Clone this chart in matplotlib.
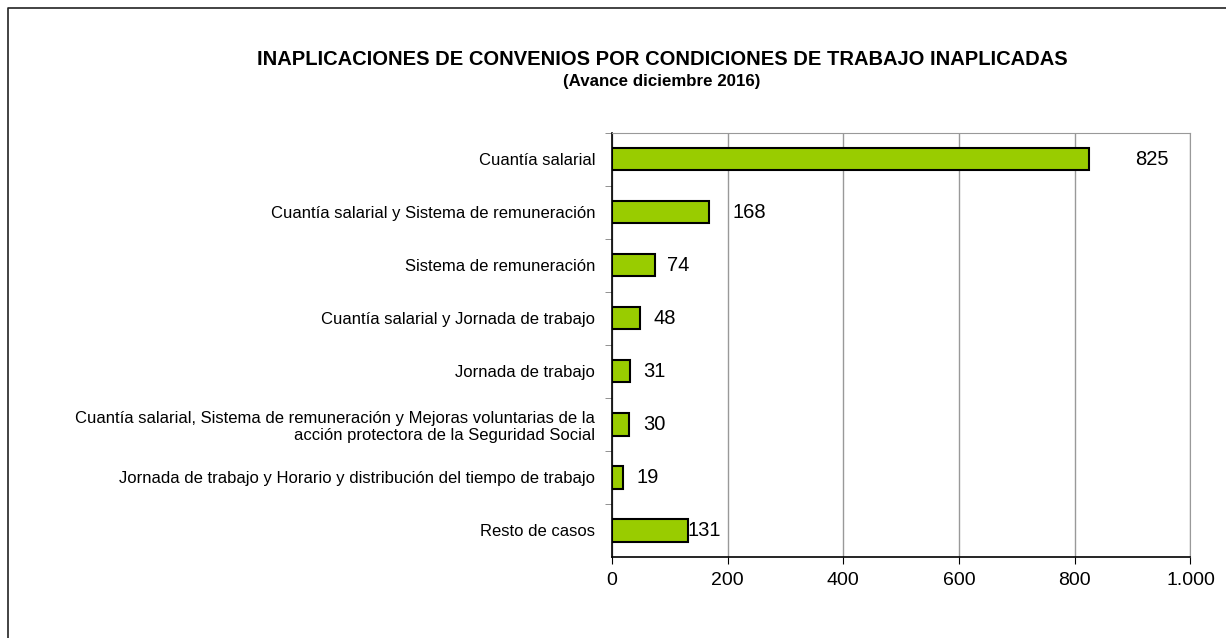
import matplotlib.pyplot as plt
from matplotlib.lines import Line2D
from matplotlib.ticker import FuncFormatter

plt.rcParams['font.family'] = ['Liberation Sans', 'DejaVu Sans']

categorias = [
    "Cuantía salarial",
    "Cuantía salarial y Sistema de remuneración",
    "Sistema de remuneración",
    "Cuantía salarial y Jornada de trabajo",
    "Jornada de trabajo",
    "Cuantía salarial, Sistema de remuneración y Mejoras voluntarias de la\nacción protectora de la Seguridad Social",
    "Jornada de trabajo y Horario y distribución del tiempo de trabajo",
    "Resto de casos",
]
valores = [825, 168, 74, 48, 31, 30, 19, 131]
xticks = [0, 200, 400, 600, 800, 1000]

fig = plt.figure(figsize=(12.26, 6.38), dpi=100)
ax = fig.add_axes([0.499, 0.127, 0.472, 0.665])

pos = list(range(len(categorias)))[::-1]
ax.barh(pos, valores, height=0.42, color='#99CC00', edgecolor='black', linewidth=1.5, zorder=3)

# desplazamiento de las etiquetas (pt), como en el original
desp = [33, 17, 9, 10, 10, 10, 10, 0]
for p, v, d in zip(pos, valores, desp):
    ax.annotate(str(v), (v, p), xytext=(d, 0), textcoords='offset points',
                va='center', ha='left', fontsize=14.5)

ax.set_xlim(0, 1000)
ax.set_ylim(-0.5, len(categorias) - 0.5)
ax.set_xticks(xticks)
ax.xaxis.set_major_formatter(FuncFormatter(lambda x, _: f"{int(x):,}".replace(",", ".")))
ax.tick_params(axis='x', labelsize=14, length=5, color='black', pad=6)

ax.set_yticks(pos)
ax.set_yticklabels(categorias, fontsize=12)
ax.set_yticks([p + 0.5 for p in pos], minor=True)
ax.tick_params(axis='y', which='major', length=0, pad=12)
ax.tick_params(axis='y', which='minor', length=5, color='gray')

ax.grid(axis='x', color='#999999', linewidth=1, zorder=0)
for s in ['top', 'right']:
    ax.spines[s].set_color('#999999')
for s in ['left', 'bottom']:
    ax.spines[s].set_color('black')
    ax.spines[s].set_linewidth(1.2)

fig.text(0.54, 0.907, "INAPLICACIONES DE CONVENIOS POR CONDICIONES DE TRABAJO INAPLICADAS",
         ha='center', va='center', fontsize=14.5, fontweight='bold')
fig.text(0.54, 0.873, "(Avance diciembre 2016)", ha='center', va='center',
         fontsize=12.2, fontweight='bold')

# marco recortado: solo borde izquierdo y superior
fig.add_artist(Line2D([0.0062, 0.0062, 1.0], [0.0, 0.9875, 0.9875], transform=fig.transFigure,
                      color='#222222', linewidth=1.2))

fig.savefig('out.png', dpi=100)
